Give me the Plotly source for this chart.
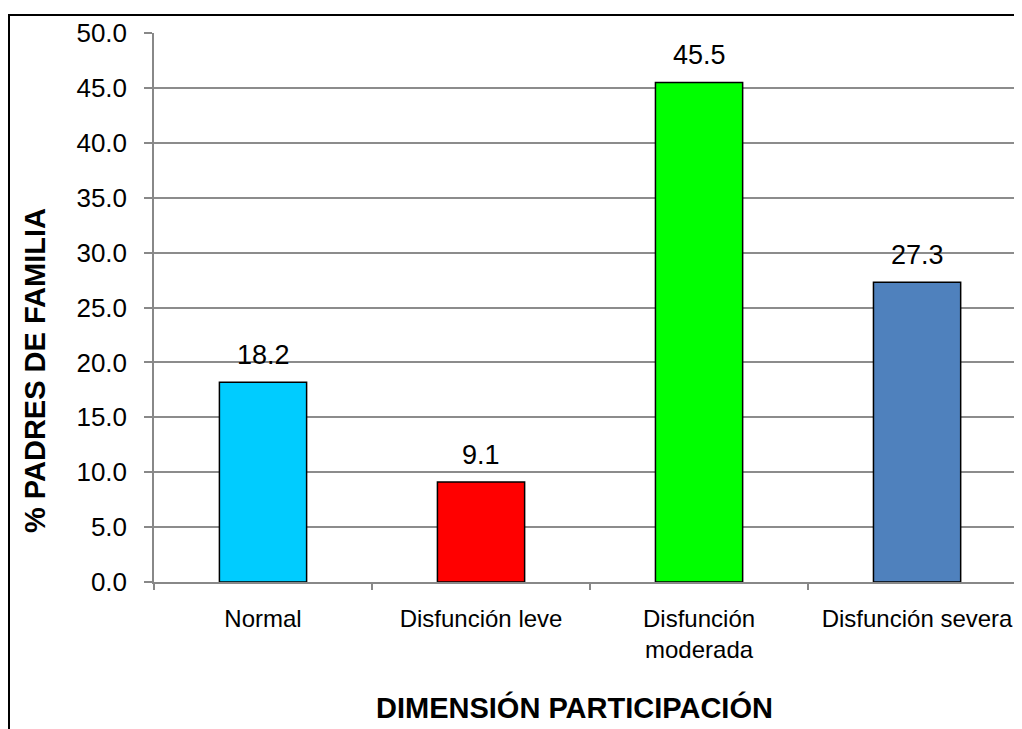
import plotly.graph_objects as go

categories = ["Normal", "Disfunción leve", "Disfunción moderada", "Disfunción severa"]
tick_labels = ["Normal", "Disfunción leve", "Disfunción<br>moderada", "Disfunción severa"]
values = [18.2, 9.1, 45.5, 27.3]
colors = ["#00CCFF", "#FF0000", "#00FF00", "#4F81BD"]
y_ticks = [0, 5, 10, 15, 20, 25, 30, 35, 40, 45, 50]

# page is offset by the 8px body margin
W, H = 1022, 729
L, R, T, B = 146, 0, 25, 155
pw = W - L - R
ph = H - T - B
FONT = "Liberation Sans, Arial"

fig = go.Figure()
fig.add_trace(go.Bar(
    x=categories, y=values, width=0.4,
    marker=dict(color=colors, line=dict(color="black", width=1.5)),
    showlegend=False,
))

for c, v in zip(categories, values):
    fig.add_annotation(x=c, y=v, text=f"{v:.1f}", showarrow=False,
                       yanchor="bottom", yshift=10,
                       font=dict(family=FONT, size=27, color="black"))

fig.add_annotation(xref="paper", yref="paper", x=(27 - L) / pw, y=1 - (363 - T) / ph,
                   text="<b>% PADRES DE FAMILIA</b>", textangle=-90, showarrow=False,
                   xanchor="center", yanchor="middle",
                   font=dict(family=FONT, size=29, color="black"))
fig.add_annotation(xref="paper", yref="paper", x=(566 - L) / pw, y=1 - (699 - T) / ph,
                   text="<b>DIMENSIÓN PARTICIPACIÓN</b>", showarrow=False,
                   xanchor="center", yanchor="middle",
                   font=dict(family=FONT, size=29, color="black"))

# outer chart border
fig.add_shape(type="rect", xref="paper", yref="paper",
              x0=(1 - L) / pw, x1=1.05, y0=-0.4, y1=1 + (T - 7) / ph,
              line=dict(color="black", width=2), layer="below")

fig.update_xaxes(
    type="category", categoryorder="array", categoryarray=categories,
    tickvals=categories, ticktext=tick_labels,
    range=[-0.5, 3.518], tickson="boundaries",
    ticks="outside", ticklen=6, tickcolor="#888888", tickwidth=1.5,
    showline=True, linecolor="#888888", linewidth=1.5,
    showgrid=False, ticklabelstandoff=14,
    tickfont=dict(family=FONT, size=24, color="black"),
)
fig.update_yaxes(
    range=[0, 50], tickvals=y_ticks, ticktext=[f"{t:.1f}" for t in y_ticks],
    ticks="outside", ticklen=8, tickcolor="#888888", tickwidth=1.5,
    showline=True, linecolor="#888888", linewidth=1.5,
    showgrid=True, gridcolor="#8C8C8C", gridwidth=1.5,
    zeroline=False, ticklabelstandoff=12,
    tickfont=dict(family=FONT, size=26, color="black"),
)

fig.update_layout(
    width=W, height=H, margin=dict(l=L, r=R, t=T, b=B, autoexpand=False),
    paper_bgcolor="white", plot_bgcolor="white", bargap=0.6,
)

fig.write_html("out.html")
